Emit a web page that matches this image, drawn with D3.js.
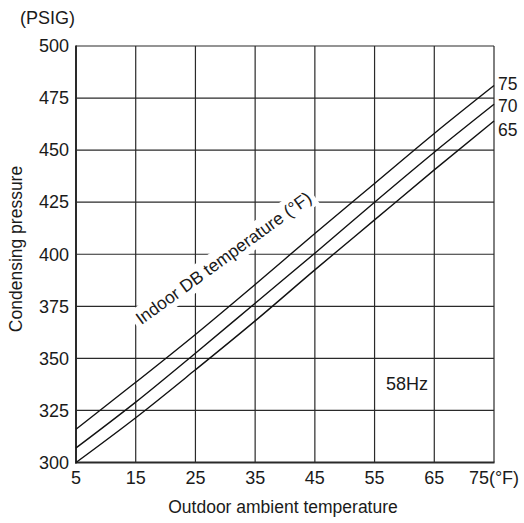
<!DOCTYPE html>
<html><head><meta charset="utf-8">
<script src="https://cdn.jsdelivr.net/npm/d3@7"></script>
<style>
html,body{margin:0;padding:0;background:#fff;}
svg{display:block;font-family:"Liberation Sans",Arial,sans-serif;}
</style></head>
<body><svg id="c" width="524" height="523"></svg>
<script>
const xTicks = [5, 15, 25, 35, 45, 55, 65, 75];
const xTickLabels = ["5", "15", "25", "35", "45", "55", "65", "75(°F)"];
const yTicks = [300, 325, 350, 375, 400, 425, 450, 475, 500];
const temps = [5, 15, 25, 35, 45, 55, 65, 75];
const series75 = [316, 338.5, 361.5, 385.5, 410, 434, 458, 481];
const series70 = [307, 329, 352.5, 376.5, 400.5, 425, 449, 472];
const series65 = [300, 321.5, 344.5, 368, 392.5, 416.5, 440.5, 464];
const seriesNames = ["75", "70", "65"];

const svg = d3.select("#c");
const L = 76, R = 494, T = 46, B = 462.5;
const x = d3.scaleLinear().domain([5, 75]).range([L, R]);
const y = d3.scaleLinear().domain([300, 500]).range([B, T]);
const ink = "#2a2a2a";
const txtCol = "#1a1a1a";

// grid
const g = svg.append("g");
g.selectAll(".vg").data(xTicks).join("line")
  .attr("x1", d => x(d)).attr("x2", d => x(d)).attr("y1", T).attr("y2", B)
  .attr("stroke", ink).attr("stroke-width", 1.2);
g.selectAll(".hg").data(yTicks).join("line")
  .attr("x1", L).attr("x2", R).attr("y1", d => y(d)).attr("y2", d => y(d))
  .attr("stroke", ink).attr("stroke-width", 1.2);

// label background + label
const lbl = svg.append("g").attr("transform", "translate(227,263) rotate(-36)");
const txt = lbl.append("text").attr("text-anchor", "middle").attr("font-size", 17.5)
  .attr("fill", txtCol).text("Indoor DB temperature (°F)");
const bb = txt.node().getBBox();
lbl.insert("rect", "text").attr("x", bb.x - 4).attr("y", bb.y - 2)
  .attr("width", bb.width + 8).attr("height", bb.height + 4).attr("fill", "#fff");

// axes frame (left & bottom thicker)
svg.append("line").attr("x1", L).attr("x2", L).attr("y1", T - 0.5).attr("y2", B + 1).attr("stroke", ink).attr("stroke-width", 2);
svg.append("line").attr("x1", L - 1).attr("x2", R + 0.5).attr("y1", B).attr("y2", B).attr("stroke", ink).attr("stroke-width", 2);

// series
const line = d3.line().x((d, i) => x(temps[i])).y(d => y(d)).curve(d3.curveMonotoneX);
const labelShift = [-2, 2, 8.5];
[series75, series70, series65].forEach((s, k) => {
  svg.append("path").attr("d", line(s)).attr("fill", "none")
    .attr("stroke", "#111").attr("stroke-width", 1.4);
  svg.append("text").attr("x", 498).attr("y", y(s[s.length - 1]) + labelShift[k])
    .attr("dy", "0.35em").attr("font-size", 17.5).attr("fill", txtCol).text(seriesNames[k]);
});

// ticks
svg.selectAll(".yt").data(yTicks).join("text")
  .attr("x", 69).attr("y", d => y(d)).attr("dy", "0.35em").attr("text-anchor", "end")
  .attr("font-size", 18).attr("fill", txtCol).text(d => d);
svg.selectAll(".xt").data(xTicks).join("text")
  .attr("x", d => x(d)).attr("y", 484).attr("text-anchor", "middle")
  .attr("font-size", 18).attr("fill", txtCol).text((d, i) => xTickLabels[i]);

// titles
svg.append("text").attr("x", 20).attr("y", 24).attr("font-size", 18).attr("fill", txtCol).text("(PSIG)");
svg.append("text").attr("x", 283).attr("y", 512.5).attr("text-anchor", "middle").attr("font-size", 17.5).attr("fill", txtCol).text("Outdoor ambient temperature");
svg.append("text").attr("transform", "translate(22,249) rotate(-90)").attr("text-anchor", "middle").attr("font-size", 17.5).attr("fill", txtCol).text("Condensing pressure");
svg.append("text").attr("x", 386).attr("y", 390).attr("font-size", 18).attr("fill", txtCol).text("58Hz");
</script></body></html>
